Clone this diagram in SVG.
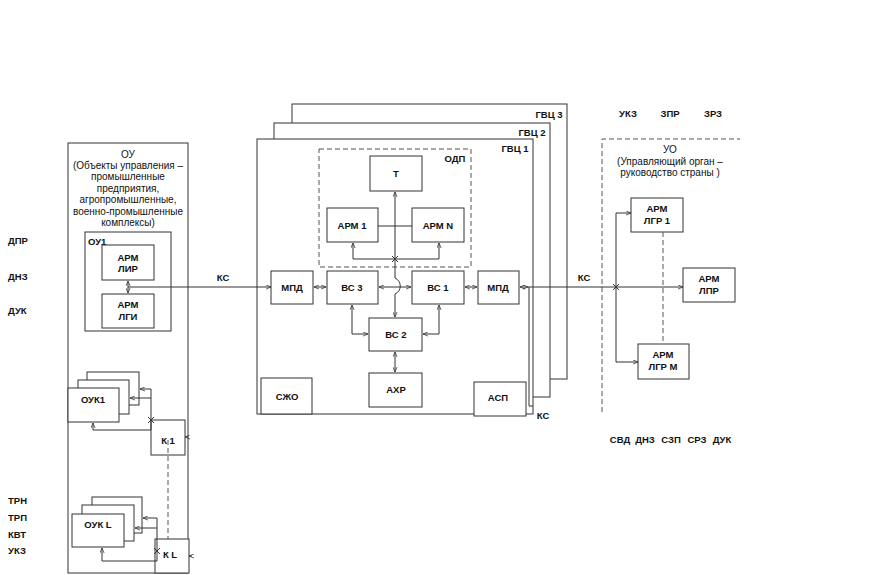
<svg xmlns="http://www.w3.org/2000/svg" width="893" height="575" viewBox="0 0 893 575">
<defs>
<marker id="ar" viewBox="0 0 6 6" refX="6" refY="3" markerWidth="5" markerHeight="5" markerUnits="userSpaceOnUse" orient="auto-start-reverse"><path d="M0,0.5 L6,3 L0,5.5" fill="none" stroke="#333" stroke-width="0.9"/></marker>
</defs>
<style>
.box{fill:#fff;stroke:#333;stroke-width:1}
.ln{fill:none;stroke:#333;stroke-width:1}
.ds{fill:none;stroke:#555;stroke-width:1;stroke-dasharray:5,3}
.t{font-family:"Liberation Sans",Arial,sans-serif;font-size:9.5px;font-weight:bold;text-anchor:middle;fill:#111}
.r{font-family:"Liberation Sans",Arial,sans-serif;font-size:10px;text-anchor:middle;fill:#111}
.l{text-anchor:start}
</style>
<rect width="893" height="575" fill="#fff"/>

<g id="left-labels">
<text class="t l" x="8" y="244">ДПР</text>
<text class="t l" x="8" y="280">ДНЗ</text>
<text class="t l" x="8" y="314">ДУК</text>
<text class="t l" x="8" y="504">ТРН</text>
<text class="t l" x="8" y="521">ТРП</text>
<text class="t l" x="8" y="538">КВТ</text>
<text class="t l" x="8" y="554">УКЗ</text>
</g>

<g id="OU">
<rect class="box" x="68" y="143" width="120" height="430"/>
<text class="r" x="128" y="158">ОУ</text>
<text class="r" x="128" y="168.5">(Объекты управления –</text>
<text class="r" x="128" y="179.5">промышленные</text>
<text class="r" x="128" y="191.5">предприятия,</text>
<text class="r" x="128" y="203">агропромышленные,</text>
<text class="r" x="128" y="214.5">военно-промышленные</text>
<text class="r" x="128" y="225.5">комплексы)</text>
</g>
<g id="OU1">
<rect class="box" x="85" y="232" width="86" height="99"/>
<text class="t l" x="88" y="245">ОУ1</text>
</g>
<g id="ARM-LIR">
<rect class="box" x="102" y="245" width="52" height="35"/>
<text class="t" x="128" y="261">АРМ</text>
<text class="t" x="128" y="272">ЛИР</text>
</g>
<g id="ARM-LGI">
<rect class="box" x="102" y="294" width="52" height="34"/>
<text class="t" x="128" y="308">АРМ</text>
<text class="t" x="128" y="320">ЛГИ</text>
</g>
<g id="OUK1">
<rect class="box" x="87" y="372" width="52" height="33"/>
<rect class="box" x="78" y="380" width="51" height="34"/>
<rect class="box" x="68" y="388" width="51" height="34"/>
<text class="t" x="93" y="403">ОУК1</text>
</g>
<g id="K1">
<rect class="box" x="151" y="420" width="34" height="35"/>
<text class="t" x="168" y="444">К 1</text>
</g>
<g id="OUKL">
<rect class="box" x="92" y="497" width="50" height="36"/>
<rect class="box" x="82" y="505" width="52" height="36"/>
<rect class="box" x="72" y="514" width="52" height="33"/>
<text class="t" x="98" y="528">ОУК L</text>
</g>
<g id="KL">
<rect class="box" x="155" y="539" width="34" height="34"/>
<text class="t" x="170" y="558">К L</text>
</g>

<g id="GVC3">
<rect class="box" x="292" y="104" width="275" height="275"/>
<text class="t" x="549" y="118">ГВЦ 3</text>
</g>
<g id="GVC2">
<rect class="box" x="274" y="123" width="276" height="274"/>
<text class="t" x="532" y="136">ГВЦ 2</text>
</g>
<g id="GVC1">
<rect class="box" x="257" y="139" width="276" height="275"/>
<text class="t" x="515" y="152">ГВЦ 1</text>
</g>
<g id="ODP">
<rect class="ds" x="319" y="149" width="152" height="118"/>
<text class="t" x="455" y="162">ОДП</text>
</g>
<g id="T">
<rect class="box" x="370" y="156" width="52" height="35"/>
<text class="t" x="396" y="177">Т</text>
</g>
<g id="ARM1">
<rect class="box" x="327" y="208" width="51" height="34"/>
<text class="t" x="352" y="228.5">АРМ 1</text>
</g>
<g id="ARMN">
<rect class="box" x="412" y="208" width="52" height="34"/>
<text class="t" x="438" y="228.5">АРМ N</text>
</g>
<g id="MPD-L">
<rect class="box" x="271" y="271" width="42" height="33"/>
<text class="t" x="292" y="290.5">МПД</text>
</g>
<g id="VS3">
<rect class="box" x="327" y="271" width="51" height="33"/>
<text class="t" x="352" y="290.5">ВС 3</text>
</g>
<g id="VS1">
<rect class="box" x="412" y="271" width="52" height="33"/>
<text class="t" x="438" y="290.5">ВС 1</text>
</g>
<g id="MPD-R">
<rect class="box" x="478" y="271" width="41" height="33"/>
<text class="t" x="498" y="290.5">МПД</text>
</g>
<g id="VS2">
<rect class="box" x="369" y="318" width="53" height="33"/>
<text class="t" x="396" y="338">ВС 2</text>
</g>
<g id="AHR">
<rect class="box" x="369" y="373" width="53" height="34"/>
<text class="t" x="396" y="393">АХР</text>
</g>
<g id="SZHO">
<rect class="box" x="261" y="378" width="51" height="36"/>
<text class="t" x="287" y="399.5">СЖО</text>
</g>
<g id="ASP">
<rect class="box" x="474" y="382" width="52" height="34"/>
<text class="t" x="498" y="400.5">АСП</text>
</g>

<g id="UO">
<path class="ds" d="M602,412 V139 H740"/>
<text class="r" x="670" y="152.5">УО</text>
<text class="r" x="670" y="164.5">(Управляющий орган –</text>
<text class="r" x="670" y="176">руководство страны )</text>
</g>
<g id="ARM-LGR1">
<rect class="box" x="631" y="198" width="52" height="34"/>
<text class="t" x="657" y="212">АРМ</text>
<text class="t" x="657" y="224">ЛГР 1</text>
</g>
<g id="ARM-LPR">
<rect class="box" x="683" y="268" width="52" height="34"/>
<text class="t" x="709" y="282">АРМ</text>
<text class="t" x="709" y="294">ЛПР</text>
</g>
<g id="ARM-LGRM">
<rect class="box" x="638" y="344" width="51" height="35"/>
<text class="t" x="663" y="358">АРМ</text>
<text class="t" x="663" y="370">ЛГР М</text>
</g>

<g id="labels">
<text class="t" x="223" y="281">КС</text>
<text class="t" x="584" y="281">КС</text>
<text class="t" x="543" y="418.5">КС</text>
<text class="t" x="628" y="116.5">УКЗ</text>
<text class="t" x="670" y="116.5">ЗПР</text>
<text class="t" x="713" y="116.5">ЗРЗ</text>
<text class="t" x="620" y="443">СВД</text>
<text class="t" x="645" y="443">ДНЗ</text>
<text class="t" x="671" y="443">СЗП</text>
<text class="t" x="697" y="443">СРЗ</text>
<text class="t" x="722" y="443">ДУК</text>
</g>

<g id="connectors">
<line class="ln" x1="128" y1="281" x2="128" y2="293" marker-start="url(#ar)" marker-end="url(#ar)"/>
<line class="ln" x1="128" y1="287" x2="271" y2="287" marker-end="url(#ar)"/>
<path class="ln" d="M151,430 V389 H140" marker-end="url(#ar)"/>
<path class="ln" d="M151,398 H130" marker-end="url(#ar)"/>
<path class="ln" d="M151,430 H93 V423" marker-end="url(#ar)"/>
<path class="ln" d="M148,417 L154,423 M154,417 L148,423"/>
<path class="ln" d="M188,437 H185" marker-end="url(#ar)"/>
<line class="ds" x1="168" y1="440" x2="168" y2="539"/>
<path class="ln" d="M157,561 V518 H143" marker-end="url(#ar)"/>
<path class="ln" d="M157,528 H135" marker-end="url(#ar)"/>
<path class="ln" d="M157,561 H102 V548" marker-end="url(#ar)"/>
<path class="ln" d="M154,548 L160,554 M160,548 L154,554"/>
<path class="ln" d="M192,556 H189" marker-end="url(#ar)"/>
<line class="ln" x1="378" y1="226" x2="412" y2="226"/>
<path class="ln" d="M353,243 V259 H439 V243" marker-start="url(#ar)" marker-end="url(#ar)"/>
<path class="ln" d="M392,256 L398,262 M398,256 L392,262"/>
<line class="ln" x1="395" y1="278" x2="395" y2="192" marker-end="url(#ar)"/>
<path class="ln" d="M395,278 C402,281 402,291 395,294 V317" marker-end="url(#ar)"/>
<line class="ln" x1="314" y1="287" x2="326" y2="287" marker-start="url(#ar)" marker-end="url(#ar)"/>
<line class="ln" x1="379" y1="287" x2="411" y2="287" marker-start="url(#ar)" marker-end="url(#ar)"/>
<line class="ln" x1="465" y1="287" x2="477" y2="287" marker-start="url(#ar)" marker-end="url(#ar)"/>
<line class="ln" x1="520" y1="287" x2="528" y2="287" marker-start="url(#ar)" marker-end="url(#ar)"/>
<path class="ln" d="M352,305 V334 H368" marker-start="url(#ar)" marker-end="url(#ar)"/>
<path class="ln" d="M439,305 V334 H423" marker-start="url(#ar)" marker-end="url(#ar)"/>
<line class="ln" x1="395" y1="352" x2="395" y2="372" marker-start="url(#ar)" marker-end="url(#ar)"/>
<path class="ln" d="M529,287 V406 H533"/>
<line class="ln" x1="528" y1="287" x2="683" y2="287" marker-end="url(#ar)"/>
<path class="ln" d="M631,213 H616 V362 H638" marker-start="url(#ar)" marker-end="url(#ar)"/>
<path class="ln" d="M613,284 L619,290 M619,284 L613,290"/>
<line class="ds" x1="663" y1="232" x2="663" y2="344"/>
</g>
</svg>
